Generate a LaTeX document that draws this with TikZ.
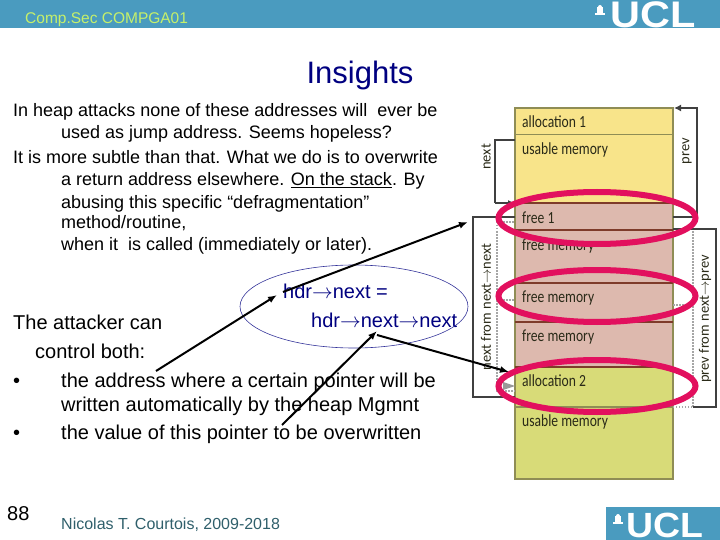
\documentclass[tikz,border=0pt]{standalone}
\usepackage{fontspec}
\setmainfont{Liberation Sans}
\newfontfamily\heapfont{Carlito}
\usetikzlibrary{arrows.meta}

\definecolor{uclblue}{HTML}{4A9BBF}
\definecolor{slidenavy}{HTML}{000080}
\definecolor{coursegreen}{HTML}{C6F06A}
\definecolor{authorteal}{HTML}{2F5F6B}
\definecolor{hoop}{HTML}{E2105E}
\definecolor{allocone}{HTML}{F8E48A}
\definecolor{freemem}{HTML}{DDB9AE}
\definecolor{alloctwo}{HTML}{D8DB78}
\definecolor{heapedge}{HTML}{8F8D55}
\definecolor{heapsplit}{HTML}{7E3B2A}
\definecolor{heapink}{HTML}{2A2A18}

\newcommand{\heapword}[1]{\scalebox{0.8}[1]{#1}}

\tikzset{
  bodytext/.style={anchor=base west, inner sep=0pt, font=\fontsize{18}{21}\selectfont},
  lowtext/.style={anchor=base west, inner sep=0pt, font=\fontsize{20}{23}\selectfont},
  hdrtext/.style={lowtext, text=slidenavy},
  heaplabel/.style={anchor=base west, inner sep=0pt, text=heapink, font=\heapfont\fontsize{17}{20}\selectfont},
  sidelabel/.style={inner sep=0pt, rotate=90, text=heapink, font=\heapfont\fontsize{14.5}{18}\selectfont},
  hoopline/.style={draw=hoop, line width=6pt},
  wire/.style={draw=black!75, line width=1.4pt},
  dotwire/.style={draw=black!35, line width=1.5pt, dash pattern=on 1.5pt off 1.5pt},
  pointer/.style={draw=black, line width=2pt, -{Latex[length=9pt,width=7pt]}},
  ucltext/.style={anchor=base west, inner sep=0pt, text=white}
}

\begin{document}
\begin{tikzpicture}[x=1pt, y=-1pt]

  \useasboundingbox (0,0) rectangle (720,540);

  % header band and logos
  \fill[uclblue] (0,0) rectangle (720,28);
  \fill[uclblue] (606,507) rectangle (720,540);
  \node[anchor=base west, inner sep=0pt, text=coursegreen, font=\fontsize{15.5}{18}\selectfont] (course) at (25,24) {Comp.Sec COMPGA01};
  \node[ucltext, font=\bfseries\fontsize{37}{37}\selectfont] (logotop) at (610,27.5) {\scalebox{1.12}[1]{UCL}};
  \node[ucltext, font=\bfseries\fontsize{35}{35}\selectfont] (logobottom) at (626,537) {\scalebox{1.07}[1]{UCL}};
  \foreach \x/\y in {600/3, 618/512} {
    \fill[white] (\x-3,\y+4) rectangle (\x+3,\y+10);
    \fill[white] (\x-5,\y+10) rectangle (\x+5,\y+12);
    \fill[white] (\x-2,\y+4) arc (180:360:2);
  }

  \node[inner sep=0pt, text=slidenavy, font=\fontsize{31}{36}\selectfont] (title) at (360,75) {Insights};

  % upper text block
  \node[bodytext] (top1) at (13,117) {In heap attacks none of these addresses will\ \ ever be};
  \node[bodytext] (top2) at (61,139) {used as jump address. Seems hopeless?};
  \node[bodytext] (top3) at (13,164) {It is more subtle than that. What we do is to overwrite};
  \node[bodytext] (top4) at (61,186) {a return address elsewhere. \underline{On the stack}. By};
  \node[bodytext] (top5) at (61,208) {abusing this specific “defragmentation”};
  \node[bodytext] (top6) at (61,229) {method/routine,};
  \node[bodytext] (top7) at (61,251) {when it\ \ is called (immediately or later).};

  % lower text block
  \node[lowtext] (low1) at (13,329) {The attacker can};
  \node[lowtext] (low2) at (35,358) {control both:};
  \node[lowtext] (bull1) at (13,387) {•};
  \node[lowtext] (low3) at (61,387) {the address where a certain pointer will be};
  \node[lowtext] (low4) at (61,411) {written automatically by the heap Mgmnt};
  \node[lowtext] (bull2) at (13,439) {•};
  \node[lowtext] (low5) at (61,439) {the value of this pointer to be overwritten};

  \node[lowtext] (page) at (7,520) {88};
  \node[anchor=base west, inner sep=0pt, text=authorteal, font=\fontsize{16}{19}\selectfont] (author) at (61,529) {Nicolas T. Courtois, 2009-2018};

  % hdr formula
  \node[hdrtext] (hdr1) at (283,298) {hdr$\rightarrow$next =};
  \node[hdrtext] (hdr2) at (311,327) {hdr$\rightarrow$next$\rightarrow$next};
  \draw[draw=slidenavy!80, line width=0.6pt] (354,306.5) ellipse (114 and 41.5);

  % heap blocks
  \def\heapl{515}
  \def\heapr{673}
  \fill[allocone] (\heapl,108) rectangle (\heapr,203);
  \fill[freemem] (\heapl,203) rectangle (\heapr,367);
  \fill[alloctwo] (\heapl,367) rectangle (\heapr,479);
  \draw[draw=heapedge, line width=1.2pt] (\heapl,108) rectangle (\heapr,479);
  \draw[draw=heapedge, line width=0.8pt] (\heapl,134) -- (\heapr,134);
  \draw[draw=heapedge, line width=1.2pt] (\heapl,407) -- (\heapr,407);
  \foreach \y in {203,230,283,322,367} {
    \draw[draw=heapsplit, line width=1.2pt] (\heapl,\y) -- (\heapr,\y);
  }

  \node[heaplabel] (alloc1) at (522,128) {\heapword{allocation 1}};
  \node[heaplabel] (usable1) at (522,154.5) {\heapword{usable memory}};
  \node[heaplabel] (free1) at (522,224) {\heapword{free 1}};
  \node[heaplabel] (free2) at (522,251) {\heapword{free memory}};
  \node[heaplabel] (free3) at (522,302) {\heapword{free memory}};
  \node[heaplabel] (free4) at (522,341) {\heapword{free memory}};
  \node[heaplabel] (alloc2) at (522,386) {\heapword{allocation 2}};
  \node[heaplabel] (usable2) at (522,426) {\heapword{usable memory}};

  % wires beside the heap
  \draw[dotwire] (497,222) -- (515,222) (497,222) -- (497,391) -- (515,391) (497,300) -- (515,300);
  \draw[dotwire] (693,231) -- (693,407) -- (673,407) (673,305) -- (693,305);
  \draw[wire] (515,140) -- (495,140) -- (495,203);
  \draw[wire, -{Latex[length=7pt,width=6pt]}] (495,203) -- (515,203);
  \draw[wire, -{Latex[length=7pt,width=7pt]}] (673,217) -- (697,217) -- (697,108) -- (674,108);
  \draw[wire] (515,217) -- (473,217) -- (473,397) -- (515,397);
  \draw[wire] (673,229) -- (716,229) -- (716,407) -- (693,407);
  \fill[black!40] (515,386) -- (503,382) -- (503,390) -- cycle;

  \node[sidelabel] (nextlabel) at (486,157) {next};
  \node[sidelabel] (prevlabel) at (687,151) {prev};
  \node[sidelabel] (nextnext) at (486,307) {next from next$\rightarrow$next};
  \node[sidelabel] (prevnext) at (705,319) {prev from next$\rightarrow$prev};

  % pink hoops
  \foreach \y in {218,296,386} {
    \draw[hoopline] (597,\y) ellipse (98.5 and 26);
  }

  % pointers
  \coordinate (ptrstart) at (156,371);
  \coordinate (ptrend) at (277,295);
  \coordinate (freestart) at (283,292);
  \coordinate (freeend) at (468,222);
  \coordinate (valstart) at (282,425);
  \coordinate (valend) at (377,331);
  \coordinate (allocstart) at (377,335);
  \coordinate (allocend) at (509,372);
  \draw[pointer] (ptrstart) -- (ptrend);
  \draw[pointer] (freestart) -- (freeend);
  \draw[pointer] (valstart) -- (valend);
  \draw[pointer] (allocstart) -- (allocend);

\end{tikzpicture}
\end{document}
